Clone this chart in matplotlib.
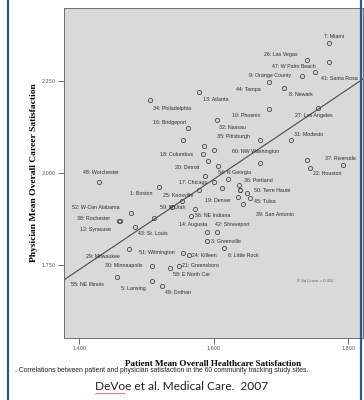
import numpy as np
import matplotlib
matplotlib.use("Agg")
import matplotlib.pyplot as plt
from matplotlib.lines import Line2D

# site labels and their (patient, physician) satisfaction means
site_labels = ["7: Miami", "26: Las Vegas", "47: W Palm Beach", "9: Orange County",
               "41: Santa Rosa", "44: Tampa", "8: Newark", "13: Atlanta",
               "34: Philadelphia", "10: Phoenix", "27: Los Angeles", "16: Bridgeport",
               "32: Nassau", "35: Pittsburgh", "31: Modesto", "18: Columbus",
               "60: NW Washington", "20: Detroit", "37: Riverside", "22: Houston",
               "54: N Georgia", "48: Worchester", "17: Chicago", "36: Portland",
               "50: Terre Haute", "1: Boston", "25: Knoxville", "19: Denver",
               "45: Tulsa", "52: W-Cen Alabama", "59: N Utah", "56: NE Indiana",
               "39: San Antonio", "38: Rochester", "12: Syracuse", "14: Augusta",
               "42: Shreveport", "43: St. Louis", "3: Greenville", "29: Milwaukee",
               "51: Wilmington", "24: Killeen", "6: Little Rock", "30: Minneapolis",
               "21: Greensboro", "58: E North Car", "55: NE Illinois", "5: Lansing",
               "49: Dothan"]
site_x = [1.771, 1.739, 1.771, 1.731, 1.751, 1.683, 1.705, 1.578, 1.506, 1.683,
          1.756, 1.562, 1.605, 1.669, 1.715, 1.585, 1.669, 1.592, 1.739, 1.792,
          1.621, 1.429, 1.601, 1.638, 1.639, 1.519, 1.578, 1.637, 1.655, 1.477,
          1.538, 1.566, 1.644, 1.460, 1.483, 1.591, 1.605, 1.512, 1.591, 1.475,
          1.555, 1.563, 1.616, 1.508, 1.548, 1.536, 1.456, 1.509, 1.524]
site_y = [2.352, 2.305, 2.299, 2.263, 2.274, 2.245, 2.231, 2.218, 2.197, 2.173,
          2.175, 2.121, 2.143, 2.088, 2.089, 2.051, 2.027, 2.032, 2.035, 2.022,
          1.985, 1.976, 1.975, 1.968, 1.955, 1.963, 1.953, 1.936, 1.933, 1.891,
          1.907, 1.885, 1.916, 1.871, 1.855, 1.841, 1.841, 1.878, 1.816, 1.794,
          1.785, 1.778, 1.796, 1.749, 1.749, 1.744, 1.718, 1.708, 1.695]

# sites without a printed label
other_x = [1.554, 1.586, 1.600, 1.606, 1.588, 1.612, 1.650, 1.553, 1.572, 1.743,
           1.461, 1.640]
other_y = [2.088, 2.072, 2.061, 2.020, 1.991, 1.959, 1.946, 1.925, 1.903, 2.014,
           1.869, 1.953]

# linear fit shown on the chart
fit_intercept = 0.029
fit_slope = 1.221
r_sq = 0.452

x_ticks = [1.4, 1.6, 1.8]
y_ticks = [1.75, 2.0, 2.25]

# where each label sits relative to its point (pixels: right, up)
label_offsets = {
    "7: Miami": (-5, 6), "26: Las Vegas": (-43, 6), "47: W Palm Beach": (-56, -4),
    "9: Orange County": (-53, 0), "41: Santa Rosa": (6, -7), "44: Tampa": (-33, -7),
    "8: Newark": (5, -7), "13: Atlanta": (4, -7), "34: Philadelphia": (3, -8),
    "10: Phoenix": (-37, -7), "27: Los Angeles": (-23, -7), "16: Bridgeport": (-35, 6),
    "32: Nassau": (2, -7), "35: Pittsburgh": (-43, 4), "31: Modesto": (3, 6),
    "18: Columbus": (-43, 0), "60: NW Washington": (-28, 12), "20: Detroit": (-33, -6),
    "37: Riverside": (18, 2), "22: Houston": (-30, -9), "54: N Georgia": (-10, 6),
    "48: Worchester": (-16, 9), "17: Chicago": (-35, 0), "36: Portland": (5, 4),
    "50: Terre Haute": (14, -1), "1: Boston": (-29, -7), "25: Knoxville": (-36, -5),
    "19: Denver": (-33, -4), "45: Tulsa": (4, -4), "52: W-Cen Alabama": (-59, 6),
    "59: N Utah": (-12, 0), "56: NE Indiana": (4, 0), "39: San Antonio": (13, -10),
    "38: Rochester": (-42, 2), "12: Syracuse": (-55, -3), "14: Augusta": (-28, 7),
    "42: Shreveport": (-2, 7), "43: St. Louis": (-16, -15), "3: Greenville": (4, 0),
    "29: Milwaukee": (-43, -7), "51: Wilmington": (-44, 0), "24: Killeen": (3, 0),
    "6: Little Rock": (4, -7), "30: Minneapolis": (-47, 0), "21: Greensboro": (3, 0),
    "58: E North Car": (3, -7), "55: NE Illinois": (-46, -7), "5: Lansing": (-31, -7),
    "49: Dothan": (3, -7),
}

W, H = 364, 400
fig = plt.figure(figsize=(W / 100, H / 100), dpi=100)
fig.patch.set_facecolor("white")

ax = fig.add_axes([64 / W, 62 / H, 299 / W, 330 / H])
ax.set_facecolor("#d9d9d9")
ax.set_xlim(1.3777, 1.8223)
ax.set_ylim(1.554, 2.446)

ax.plot(site_x, site_y, "o", ms=3, mfc="none", mec="#454545", mew=0.6)
ax.plot(other_x, other_y, "o", ms=3, mfc="none", mec="#454545", mew=0.6)
ax.axline((0, fit_intercept), slope=fit_slope, color="#4a4a4a", lw=0.8)

for lab, x, y in zip(site_labels, site_x, site_y):
    dx, dy = label_offsets[lab]
    ax.annotate(lab, (x, y), xytext=(dx, dy), textcoords="offset pixels",
                ha="left", va="center", fontsize=3.8, color="#2b2b2b",
                family="Liberation Sans")

ax.text(297, H - 281, f"R Sq Linear = {r_sq:.3f}", transform=None,
        fontsize=3, color="#666666", va="center", family="Liberation Sans")

ax.set_xticks(x_ticks)
ax.set_yticks(y_ticks)
ax.set_xticklabels([f"{t:.3f}" for t in x_ticks])
ax.set_yticklabels([f"{t:.3f}" for t in y_ticks])
ax.tick_params(direction="out", length=4, width=0.6, color="#555555",
               labelsize=3.5, labelcolor="#555555", pad=2)
for s in ax.spines.values():
    s.set_color("#707070")
    s.set_linewidth(0.7)

ax.set_xlabel("Patient Mean Overall Healthcare Satisfaction", family="Liberation Serif",
              fontweight="bold", fontsize=6.6, labelpad=6)
ax.set_ylabel("Physician Mean Overall Career Satisfaction", family="Liberation Serif",
              fontweight="bold", fontsize=6.8, labelpad=3)

fig.text(15 / W, 1 - 370 / H,
         ". Correlations between patient and physician satisfaction in the 60 community tracking study sites.",
         fontsize=4.9, color="#222222", va="center", family="Liberation Sans")
cite = fig.text(0.5, 1 - 387 / H, "DeVoe et al. Medical Care.  2007", fontsize=8.6,
                ha="center", va="center", color="#222222", family="Lato")

# red spell-check squiggle under the surname
fig.canvas.draw()
bb = cite.get_window_extent()
sx = np.linspace(bb.x0, bb.x0 + bb.width * 0.17, 30)
sy = bb.y0 - 1.5 + 0.8 * (np.arange(30) % 2)
fig.add_artist(Line2D(sx / W, sy / H, color="#d03030", lw=0.4, transform=fig.transFigure))

# blue slide borders
for bx in (8, 361):
    fig.add_artist(Line2D([bx / W, bx / W], [0, 1], color="#2b5797", lw=1.6,
                          transform=fig.transFigure))

fig.savefig("out.png", dpi=100)
